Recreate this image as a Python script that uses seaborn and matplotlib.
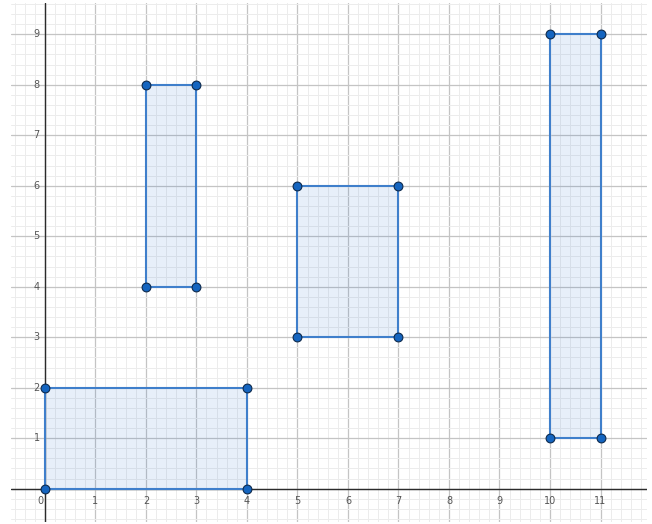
import numpy as np
import pandas as pd
import seaborn as sns
import matplotlib.pyplot as plt
from matplotlib.ticker import MultipleLocator

# Rectangles (x_min, x_max, y_min, y_max)
rect_names = ["A", "B", "C", "D"]
x_min = [0, 2, 5, 10]
x_max = [4, 3, 7, 11]
y_min = [0, 4, 3, 1]
y_max = [2, 8, 6, 9]

x_ticks = list(range(0, 12))
y_ticks = list(range(0, 10))

sns.set_style("white")
plt.rcParams['font.family'] = ['DejaVu Sans']

fig = plt.figure(figsize=(6.52, 5.24), dpi=100)
ax = fig.add_axes([11 / 652, 2 / 524, 636 / 652, 519 / 524])

ax.set_xlim(-0.67, 11.92)
ax.set_ylim(-0.66, 9.62)

# grid
ax.xaxis.set_major_locator(MultipleLocator(1))
ax.yaxis.set_major_locator(MultipleLocator(1))
ax.xaxis.set_minor_locator(MultipleLocator(0.2))
ax.yaxis.set_minor_locator(MultipleLocator(0.2))
ax.grid(which="minor", color="#ececec", lw=0.7, zorder=0)
ax.grid(which="major", color="#c4c4c4", lw=0.9, zorder=0)
ax.set_axisbelow(True)
ax.tick_params(which="both", length=0, labelbottom=False, labelleft=False)
for s in ax.spines.values():
    s.set_visible(False)

# axes lines
ax.axhline(0, color="#2b2b2b", lw=1.0, zorder=1)
ax.axvline(0, color="#2b2b2b", lw=1.0, zorder=1)

# tick labels along axes
for t in x_ticks:
    ax.text(t + (-0.08 if t == 0 else 0), -0.14, str(t), ha="center", va="top",
            fontsize=7, color="#555555")
for t in y_ticks[1:]:
    ax.text(-0.1, t, str(t), ha="right", va="center", fontsize=7, color="#555555")

# rectangles
pts = []
for n, a, b, c, d in zip(rect_names, x_min, x_max, y_min, y_max):
    xs = [a, b, b, a]
    ys = [c, c, d, d]
    ax.fill(xs, ys, facecolor=(0.1, 0.4, 0.8, 0.1), zorder=2)
    ax.fill(xs, ys, facecolor="none", edgecolor="#3f7fcb", lw=1.5, zorder=2)
    for x, y in zip(xs, ys):
        pts.append((n, x, y))

df = pd.DataFrame(pts, columns=["rect", "x", "y"])
sns.scatterplot(data=df, x="x", y="y", ax=ax, s=40, color="#1565c0",
                edgecolor="#0d2a4d", linewidth=0.8, zorder=3, legend=False)
ax.set_xlabel("")
ax.set_ylabel("")

fig.savefig("out.png", dpi=100)
